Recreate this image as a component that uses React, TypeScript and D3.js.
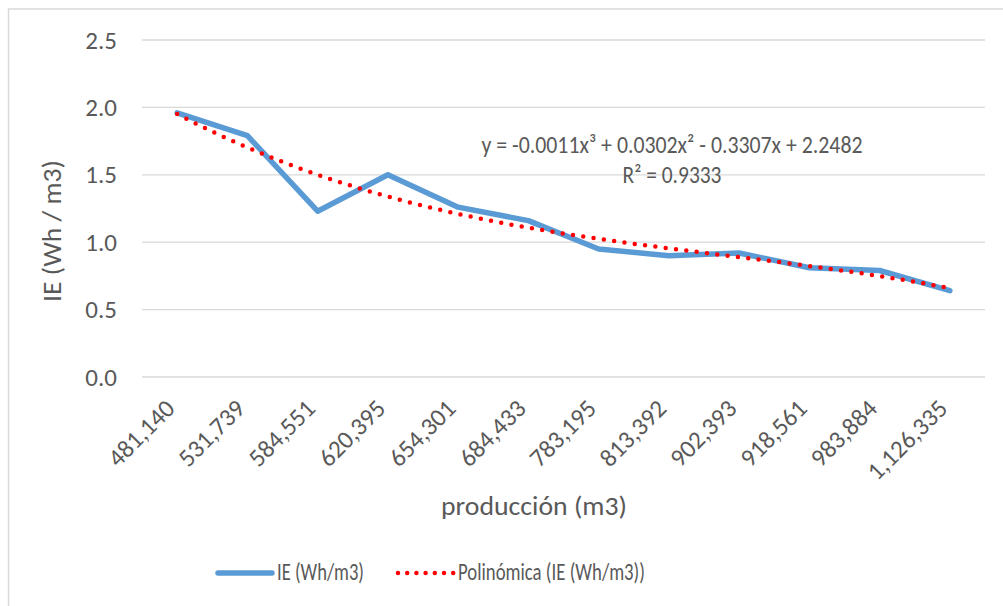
import React from "react";
import * as d3 from "d3";

const categories = [
  "481,140", "531,739", "584,551", "620,395", "654,301", "684,433",
  "783,195", "813,392", "902,393", "918,561", "983,884", "1,126,335",
];
const ieValues = [1.96, 1.79, 1.23, 1.5, 1.26, 1.16, 0.95, 0.9, 0.92, 0.81, 0.79, 0.64];
const yTicks = [0, 0.5, 1.0, 1.5, 2.0, 2.5];
const equationText = "y = -0.0011x³ + 0.0302x² - 0.3307x + 2.2482";
const r2Text = "R² = 0.9333";
const seriesName = "IE (Wh/m3)";
const trendName = "Polinómica (IE (Wh/m3))";
const yTitle = "IE (Wh / m3)";
const xTitle = "producción (m3)";

const W = 1003;
const H = 606;
const FONT = "Carlito, Calibri, 'Open Sans', sans-serif";
const TXT = "#595959";
const BLUE = "#5B9BD5";
const RED = "#FF0000";

// cubic least-squares fit (the chart's polynomial trendline) on x = 1..n
function cubicFit(values: number[]): number[] {
  const deg = 3;
  const m = deg + 1;
  const A = Array.from({ length: m }, () => new Array(m + 1).fill(0));
  values.forEach((v, i) => {
    const t = i + 1;
    for (let r = 0; r < m; r++) {
      for (let c = 0; c < m; c++) A[r][c] += Math.pow(t, r + c);
      A[r][m] += v * Math.pow(t, r);
    }
  });
  for (let p = 0; p < m; p++) {
    let best = p;
    for (let r = p + 1; r < m; r++) if (Math.abs(A[r][p]) > Math.abs(A[best][p])) best = r;
    [A[p], A[best]] = [A[best], A[p]];
    for (let r = 0; r < m; r++) {
      if (r === p) continue;
      const f = A[r][p] / A[p][p];
      for (let c = p; c <= m; c++) A[r][c] -= f * A[p][c];
    }
  }
  return A.map((row, i) => row[m] / row[i]);
}

export default function App() {
  const plotLeft = 142;
  const plotRight = 985;
  const plotTop = 40;
  const plotBottom = 377;

  const x = d3.scalePoint<string>().domain(categories).range([plotLeft, plotRight]).padding(0.5);
  const y = d3.scaleLinear().domain([0, 2.5]).range([plotBottom, plotTop]);
  const xIdx = d3
    .scaleLinear()
    .domain([1, categories.length])
    .range([x(categories[0]) as number, x(categories[categories.length - 1]) as number]);

  const line = d3
    .line<number>()
    .x((_, i) => x(categories[i]) as number)
    .y((d) => y(d));

  const coef = cubicFit(ieValues);
  const poly = (t: number) => coef.reduce((s, c, k) => s + c * Math.pow(t, k), 0);
  const samples = d3.range(1, categories.length + 0.0001, 0.05);
  const trendLine = d3
    .line<number>()
    .x((t) => xIdx(t))
    .y((t) => y(poly(t)));

  return (
    <svg
      width={W}
      height={H}
      style={{ position: "absolute", left: 0, top: 0, background: "#fff" }}
      fontFamily={FONT}
    >
      <rect x={8.5} y={9} width={1010} height={620} fill="#fff" stroke="#d9d9d9" strokeWidth={1.5} />
      {yTicks.map((t) => (
        <g key={t}>
          <line x1={plotLeft} x2={plotRight} y1={y(t)} y2={y(t)} stroke="#d9d9d9" strokeWidth={1.3} />
          <text x={117} y={y(t)} dy="0.34em" textAnchor="end" fontSize={25} fill={TXT}>
            {t.toFixed(1)}
          </text>
        </g>
      ))}
      {categories.map((c) => (
        <text
          key={c}
          transform={`translate(${(x(c) as number) - 1},${plotBottom + 33}) rotate(-45)`}
          textAnchor="end"
          fontSize={25}
          fill={TXT}
        >
          {c}
        </text>
      ))}
      <path d={line(ieValues) || ""} fill="none" stroke={BLUE} strokeWidth={5.5} strokeLinejoin="round" strokeLinecap="round" />
      <path
        d={trendLine(samples) || ""}
        fill="none"
        stroke={RED}
        strokeWidth={4.5}
        strokeLinecap="round"
        strokeDasharray="0 10.4"
      />
      <text x={672} y={153} textAnchor="middle" fontSize={25} fill={TXT} textLength={381} lengthAdjust="spacingAndGlyphs">
        {equationText}
      </text>
      <text x={672} y={183} textAnchor="middle" fontSize={25} fill={TXT} textLength={99} lengthAdjust="spacingAndGlyphs">
        {r2Text}
      </text>
      <text
        transform={`translate(61,231) rotate(-90)`}
        textAnchor="middle"
        fontSize={26}
        fill={TXT}
        textLength={142}
        lengthAdjust="spacingAndGlyphs"
      >
        {yTitle}
      </text>
      <text x={534} y={515} textAnchor="middle" fontSize={26} fill={TXT} textLength={186} lengthAdjust="spacingAndGlyphs">
        {xTitle}
      </text>
      <line x1={218} x2={272} y1={573} y2={573} stroke={BLUE} strokeWidth={5.5} strokeLinecap="round" />
      <text x={277} y={580} fontSize={25} fill={TXT} textLength={87} lengthAdjust="spacingAndGlyphs">
        {seriesName}
      </text>
      <line
        x1={398}
        x2={454}
        y1={573}
        y2={573}
        stroke={RED}
        strokeWidth={4.5}
        strokeLinecap="round"
        strokeDasharray="0 9.2"
      />
      <text x={458} y={580} fontSize={25} fill={TXT} textLength={187} lengthAdjust="spacingAndGlyphs">
        {trendName}
      </text>
    </svg>
  );
}
